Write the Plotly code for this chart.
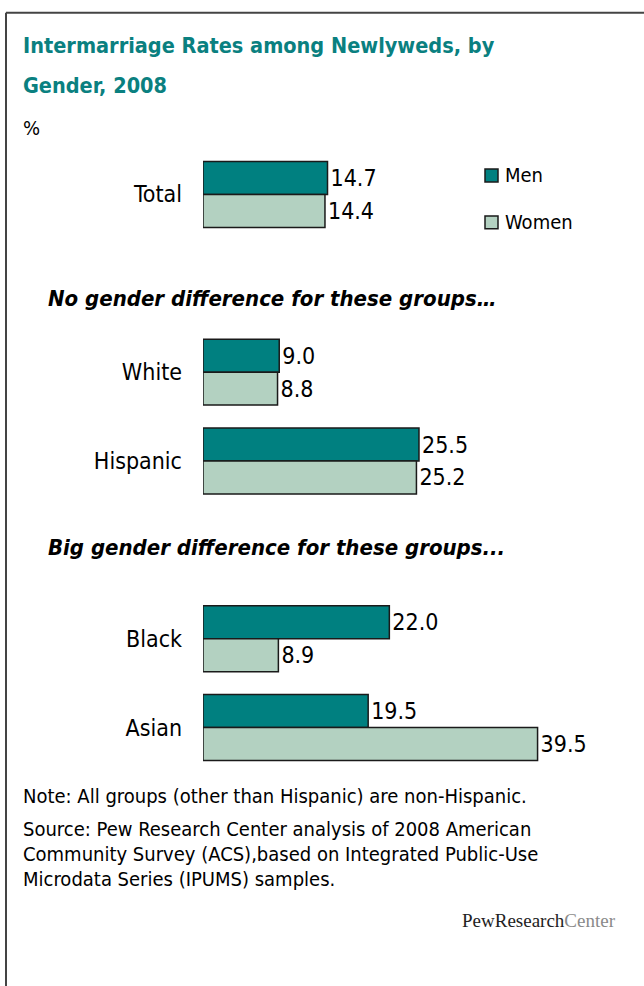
import plotly.graph_objects as go

# ---- data ----
categories = ["Total", "White", "Hispanic", "Black", "Asian"]
men = [14.7, 9.0, 25.5, 22.0, 19.5]
women = [14.4, 8.8, 25.2, 8.9, 39.5]
series_names = ["Men", "Women"]
# category slots (blank slots hold the section headings)
category_order = ["Total", " ", "White", "Hispanic", "  ", "Black", "Asian"]

title_lines = ["Intermarriage Rates among Newlyweds, by", "Gender, 2008"]
section_titles = ["No gender difference for these groups\u2026",
                  "Big gender difference for these groups..."]
note_lines = [
    "Note: All groups (other than Hispanic) are non-Hispanic.",
    "Source: Pew Research Center analysis of 2008 American",
    "Community Survey (ACS),based on Integrated Public-Use",
    "Microdata Series (IPUMS) samples.",
]

# ---- style ----
TEAL = "#008080"
SAGE = "#B3D1C1"
SERIES_COLORS = [TEAL, SAGE]
FONT = "DejaVu Sans Condensed, DejaVu Sans"
W_PX, H_PX = 644, 986
ML, MR, MT, MB = 203, 41, 149.5, 213.5
PW, PH = W_PX - ML - MR, H_PX - MT - MB


def xp(px):
    return (px - ML) / PW


def yp(py):
    return 1 - (py - MT) / PH


fig = go.Figure()
for name, vals, color in zip(series_names, [men, women], SERIES_COLORS):
    fig.add_trace(go.Bar(
        y=categories, x=vals, name=name, orientation="h",
        marker=dict(color=color, line=dict(color="#1a1a1a", width=1.5)),
        text=[f"{v:.1f}" for v in vals], textposition="outside",
        textfont=dict(family=FONT, size=23, color="#000"),
        cliponaxis=False, constraintext="none",
        hoverinfo="skip",
    ))

annotations = []
shapes = []
# title
for i, line in enumerate(title_lines):
    annotations.append(dict(
        text=f"<b>{line}</b>", x=xp(21), y=yp(45 + 40 * i), xref="paper", yref="paper",
        xanchor="left", yanchor="middle", showarrow=False,
        font=dict(family=FONT, size=21.5, color="#0A8080")))
annotations.append(dict(
    text="%", x=xp(21), y=yp(127), xref="paper", yref="paper",
    xanchor="left", yanchor="middle", showarrow=False,
    font=dict(family=FONT, size=20, color="#000")))
for txt, py in zip(section_titles, [298, 548]):
    annotations.append(dict(
        text=f"<b><i>{txt}</i></b>", x=xp(46), y=yp(py), xref="paper", yref="paper",
        xanchor="left", yanchor="middle", showarrow=False,
        font=dict(family=FONT, size=22, color="#000")))
for txt, py in zip(note_lines, [797, 830, 855, 880]):
    annotations.append(dict(
        text=txt, x=xp(21), y=yp(py), xref="paper", yref="paper",
        xanchor="left", yanchor="middle", showarrow=False,
        font=dict(family=FONT, size=20, color="#000")))
annotations.append(dict(
    text="PewResearch<span style='color:#8a8a8a'>Center</span>",
    x=xp(618), y=yp(921), xref="paper", yref="paper",
    xanchor="right", yanchor="middle", showarrow=False,
    font=dict(family="Liberation Serif", size=19, color="#222")))

# legend (square swatch + label)
for name, color, cy in zip(series_names, SERIES_COLORS, [175, 222]):
    shapes.append(dict(type="rect", xref="paper", yref="paper",
                       x0=xp(485), x1=xp(498), y0=yp(cy - 6.5), y1=yp(cy + 6.5),
                       fillcolor=color, line=dict(color="#1a1a1a", width=1.5)))
    annotations.append(dict(
        text=name, x=xp(503), y=yp(cy), xref="paper", yref="paper",
        xanchor="left", yanchor="middle", showarrow=False,
        font=dict(family=FONT, size=20, color="#000")))

# frame
shapes += [
    dict(type="line", xref="paper", yref="paper", x0=xp(6), x1=xp(650), y0=yp(12), y1=yp(12),
         line=dict(color="#444", width=2)),
    dict(type="line", xref="paper", yref="paper", x0=xp(6), x1=xp(6), y0=yp(12), y1=yp(990),
         line=dict(color="#444", width=2)),
]

fig.update_layout(
    width=W_PX, height=H_PX,
    margin=dict(l=ML, r=MR, t=MT, b=MB),
    paper_bgcolor="white", plot_bgcolor="white",
    barmode="group", bargap=0.258, bargroupgap=0,
    showlegend=False,
    font=dict(family=FONT, color="#000"),
    xaxis=dict(range=[0, PW / 8.47], visible=False, fixedrange=True),
    yaxis=dict(type="category", categoryorder="array", categoryarray=category_order,
               autorange="reversed", showgrid=False, zeroline=False, showline=False,
               ticks="", ticklabelstandoff=20, tickfont=dict(family=FONT, size=23, color="#000"),
               fixedrange=True),
    annotations=annotations, shapes=shapes,
)

fig.write_html("out.html")
